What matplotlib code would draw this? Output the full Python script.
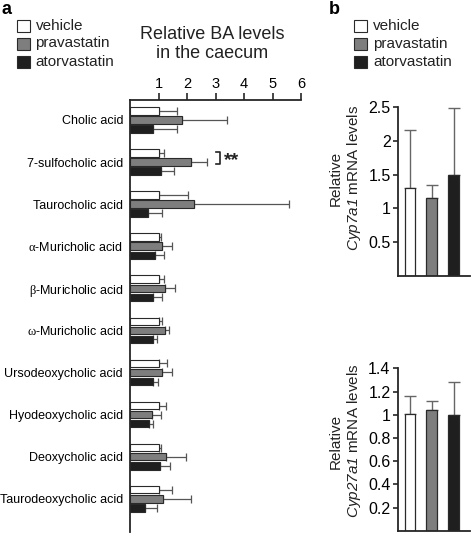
import matplotlib
matplotlib.use("Agg")
import matplotlib.pyplot as plt
from matplotlib.patches import Rectangle
import numpy as np

plt.rcParams['font.family'] = ['Liberation Sans', 'DejaVu Sans']
plt.rcParams['mathtext.fontset'] = 'custom'
plt.rcParams['mathtext.rm'] = 'Liberation Serif'
plt.rcParams['mathtext.it'] = 'Liberation Sans:italic'
plt.rcParams['mathtext.sf'] = 'Liberation Sans:italic'

# ---------------- data ----------------
groups = ["vehicle", "pravastatin", "atorvastatin"]
acids = ["Cholic acid", "7-sulfocholic acid", "Taurocholic acid",
         r"$\mathrm{\alpha}$-Muricholic acid", r"$\mathrm{\beta}$-Muricholic acid",
         r"$\mathrm{\omega}$-Muricholic acid", "Ursodeoxycholic acid",
         "Hyodeoxycholic acid", "Deoxycholic acid", "Taurodeoxycholic acid"]
vehicle_mean = [1.0, 1.0, 1.0, 1.0, 1.0, 1.0, 1.0, 1.0, 1.0, 1.0]
vehicle_sd = [0.66, 0.19, 1.05, 0.09, 0.19, 0.11, 0.29, 0.26, 0.10, 0.46]
prava_mean = [1.81, 2.13, 2.26, 1.13, 1.22, 1.22, 1.13, 0.76, 1.27, 1.17]
prava_sd = [1.58, 0.58, 3.31, 0.34, 0.36, 0.16, 0.34, 0.34, 0.69, 0.96]
ator_mean = [0.80, 1.08, 0.62, 0.88, 0.80, 0.82, 0.80, 0.67, 1.06, 0.53]
ator_sd = [0.84, 0.46, 0.50, 0.32, 0.33, 0.13, 0.19, 0.13, 0.35, 0.41]
ba_ticks = [1, 2, 3, 4, 5, 6]

cyp7a1_mean = [1.30, 1.15, 1.50]
cyp7a1_sd = [0.86, 0.20, 0.99]
cyp7a1_ticks = [0.5, 1, 1.5, 2, 2.5]
cyp7a1_ticklabels = ["0.5", "1", "1.5", "2", "2.5"]

cyp27a1_mean = [1.01, 1.04, 1.00]
cyp27a1_sd = [0.15, 0.08, 0.28]
cyp27a1_ticks = [0.2, 0.4, 0.6, 0.8, 1.0, 1.2, 1.4]
cyp27a1_ticklabels = ["0.2", "0.4", "0.6", "0.8", "1", "1.2", "1.4"]

# ---------------- style ----------------
colors = ["#ffffff", "#7e7e7e", "#1f1f1f"]
edge = "#2a2a2a"
errc = "#555555"
axc = "#262626"

W, H = 472, 534
fig = plt.figure(figsize=(W / 100, H / 100), dpi=100)


def fx(px):
    return px / W


def fy(py):
    return 1 - py / H


# ---------------- panel a ----------------
ax = fig.add_axes([fx(130), fy(532), (301 - 130) / W, (532 - 100) / H])
y = np.arange(len(acids))
off = 0.215
bh = 0.18
means = [vehicle_mean, prava_mean, ator_mean]
sds = [vehicle_sd, prava_sd, ator_sd]
for k in range(3):
    ax.barh(y + (k - 1) * off, means[k], height=bh, color=colors[k],
            edgecolor=edge, linewidth=0.8, zorder=2)
    ax.errorbar(means[k], y + (k - 1) * off,
                xerr=[np.zeros(len(acids)), sds[k]], fmt='none',
                ecolor=errc, elinewidth=0.9, capsize=2.6, capthick=0.9, zorder=1)

ax.set_xlim(0, 6)
ax.set_ylim(9.79, -0.475)
ax.xaxis.tick_top()
ax.set_xticks(ba_ticks)
ax.set_xticklabels([str(t) for t in ba_ticks])
ax.tick_params(axis='x', direction='out', length=5, width=1.2, color=axc,
               labelsize=10.5, pad=1.5)
ax.set_yticks(y)
ax.set_yticklabels(acids)
ax.tick_params(axis='y', length=0, labelsize=9, pad=5)
for s in ['right', 'bottom']:
    ax.spines[s].set_visible(False)
for s in ['left', 'top']:
    ax.spines[s].set_linewidth(1.3)
    ax.spines[s].set_color(axc)

# significance bracket
bx0, bx1 = 3.03, 3.16
by0, by1 = 1 - off - 0.02, 1 + 0.05
ax.plot([bx0, bx1, bx1, bx0], [by0, by0, by1, by1], color="#222222", lw=1.2,
        clip_on=False)
ax.text(3.3, 0.97, "**", fontsize=14, fontweight='bold', ha='left',
        va='center', color="#222222")

fig.text(fx(212), fy(44), "Relative BA levels\nin the caecum", ha='center',
         va='center', fontsize=13, linespacing=1.15, color="#222222")
fig.text(fx(2), fy(10), "a", fontsize=13, fontweight='bold', ha='left',
         va='center')


def legend(x0, ys):
    for k, (lab, yy) in enumerate(zip(groups, ys)):
        fig.add_artist(Rectangle((fx(x0), fy(yy + 6)), 13 / W, 12 / H,
                                 transform=fig.transFigure,
                                 facecolor=colors[k], edgecolor=edge,
                                 linewidth=0.8))
        fig.text(fx(x0 + 19), fy(yy), lab, fontsize=11, ha='left',
                 va='center', color="#222222")


legend(16.5, [26, 43.5, 62])

# ---------------- panel b ----------------
fig.text(fx(329), fy(10), "b", fontsize=13, fontweight='bold', ha='left',
         va='center')
legend(354, [26, 44, 62])

xb = np.arange(3)


def bpanel(rect, mean, sd, ylim, ticks, ticklabels, label, label_y):
    a = fig.add_axes(rect)
    a.bar(xb, mean, width=0.5, color=colors, edgecolor=edge, linewidth=0.9,
          zorder=2)
    a.errorbar(xb, mean, yerr=[np.zeros(3), sd], fmt='none', ecolor="#666666",
               elinewidth=1.0, capsize=4, capthick=1.0, zorder=1)
    a.set_xlim(-0.57, 2.74)
    a.set_ylim(*ylim)
    a.set_xticks([])
    a.set_yticks(ticks)
    a.set_yticklabels(ticklabels)
    a.tick_params(axis='y', direction='out', length=3.5, width=1.2, color=axc,
                  labelsize=11.5, pad=1.5)
    for s in ['right', 'top']:
        a.spines[s].set_visible(False)
    for s in ['left', 'bottom']:
        a.spines[s].set_linewidth(1.3)
        a.spines[s].set_color(axc)
    fig.text(fx(346), fy(label_y), label, rotation=90, ha='center',
             va='center', fontsize=11, linespacing=1.2, multialignment='center',
             color="#222222")
    return a


bpanel([fx(397.5), fy(276), 72.5 / W, (276 - 107) / H], cyp7a1_mean,
       cyp7a1_sd, (0, 2.5), cyp7a1_ticks, cyp7a1_ticklabels,
       "Relative\n$\\mathsf{Cyp7a1}$ mRNA levels", 178)
bpanel([fx(397.5), fy(530.7), 72.5 / W, (530.7 - 368.3) / H], cyp27a1_mean,
       cyp27a1_sd, (0, 1.4), cyp27a1_ticks, cyp27a1_ticklabels,
       "Relative\n$\\mathsf{Cyp27a1}$ mRNA levels", 441)

fig.savefig("out.png", dpi=100)
